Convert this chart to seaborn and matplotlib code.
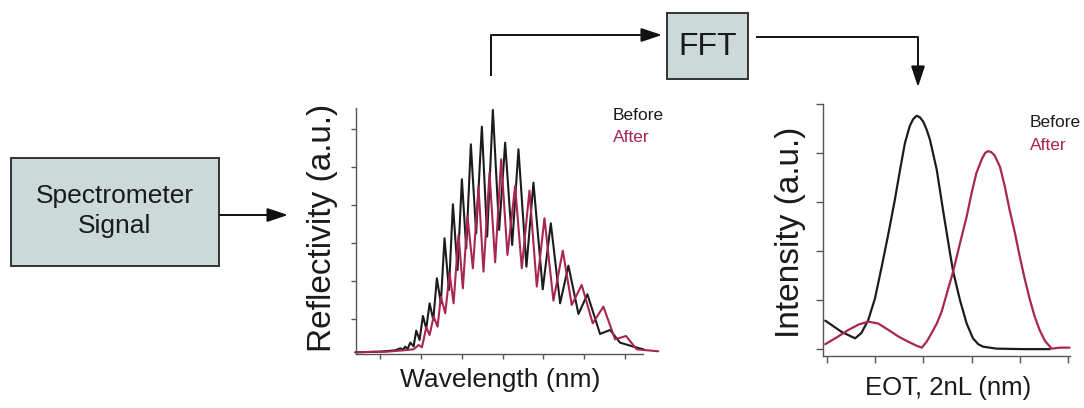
import matplotlib
matplotlib.use("Agg")
import matplotlib.pyplot as plt
import seaborn as sns
from matplotlib.patches import Rectangle

# ---------------- data ----------------
# Reflectivity spectrum, "Before" (black)
wl_before = [469.4, 500.0, 518.4, 524.5, 527.8, 530.6, 533.5, 536.8, 540.9, 544.1,
             548.2, 552.3, 556.4, 560.5, 565.0, 569.4, 574.3, 578.8, 584.2, 589.1,
             594.8, 600.1, 605.4, 611.1, 617.6, 624.6, 631.1, 638.1, 645.8, 653.2,
             661.8, 669.5, 679.3, 687.9, 699.3, 709.2, 720.6, 730.8, 743.1, 754.1,
             769.6, 781.9, 794.1, 810.5, 822.7]
refl_before = [0.132, 0.149, 0.184, 0.237, 0.202, 0.281, 0.219, 0.386, 0.289, 0.702,
               0.456, 1.088, 0.754, 1.421, 0.982, 2.079, 1.421, 3.132, 1.772, 4.026,
               2.298, 4.684, 2.868, 5.605, 3.263, 6.070, 3.175, 6.509, 3.351, 5.649,
               2.956, 5.474, 2.386, 4.596, 1.789, 3.526, 1.421, 2.412, 1.140, 1.658,
               0.614, 0.719, 0.386, 0.281, 0.211]
# Reflectivity spectrum, "After" (red)
wl_after = [469.4, 508.2, 528.6, 540.9, 547.0, 551.1, 556.4, 560.5, 565.4, 570.3,
            574.3, 579.7, 585.0, 589.9, 596.0, 601.3, 607.0, 613.6, 620.5, 626.6,
            634.0, 640.9, 648.3, 656.0, 665.4, 673.6, 683.0, 692.0, 701.4, 712.4,
            723.9, 734.9, 747.1, 760.6, 773.7, 788.0, 801.5, 814.5, 841.1]
refl_after = [0.132, 0.149, 0.184, 0.211, 0.325, 0.263, 0.789, 0.588, 1.070, 0.807,
              1.596, 1.158, 2.211, 1.421, 3.219, 1.816, 3.702, 2.342, 4.474, 2.254,
              4.860, 2.500, 5.211, 2.693, 4.509, 2.342, 4.386, 1.860, 3.658, 1.491,
              2.807, 1.377, 1.904, 0.895, 1.333, 0.474, 0.561, 0.211, 0.158]

# FFT spectrum
eot_before = [-0.03, 0.31, 0.59, 0.72, 0.86, 1.00, 1.14, 1.28, 1.41, 1.52,
              1.62, 1.72, 1.79, 1.86, 1.93, 2.00, 2.07, 2.14, 2.28, 2.41,
              2.55, 2.62, 2.76, 2.90, 3.03, 3.14, 3.24, 3.52, 4.07, 4.62]
int_before = [0.58, 0.35, 0.22, 0.33, 0.59, 1.03, 1.68, 2.36, 3.03, 3.65,
              4.19, 4.54, 4.68, 4.75, 4.72, 4.63, 4.47, 4.26, 3.65, 2.83,
              1.98, 1.58, 1.00, 0.52, 0.22, 0.10, 0.05, 0.01, 0.00, 0.00]
eot_after = [-0.03, 0.21, 0.45, 0.66, 0.86, 1.07, 1.28, 1.48, 1.69, 1.86,
             1.97, 2.07, 2.17, 2.28, 2.38, 2.48, 2.62, 2.76, 2.90, 3.00,
             3.10, 3.21, 3.28, 3.34, 3.41, 3.48, 3.59, 3.69, 3.79, 3.90,
             4.00, 4.10, 4.21, 4.31, 4.41, 4.52, 4.66, 4.83, 5.03]
int_after = [0.10, 0.24, 0.39, 0.50, 0.56, 0.52, 0.39, 0.26, 0.15, 0.07,
             0.03, 0.15, 0.32, 0.52, 0.76, 1.10, 1.58, 2.15, 2.70, 3.17,
             3.58, 3.86, 3.99, 4.03, 4.01, 3.94, 3.71, 3.31, 2.83, 2.36,
             1.88, 1.44, 1.00, 0.66, 0.39, 0.17, 0.01, 0.03, 0.03]

wl_ticks = [500, 550, 600, 650, 700, 750, 800]
refl_ticks = [1, 2, 3, 4, 5, 6]
eot_ticks = [0, 1, 2, 3, 4, 5]
int_ticks = [0, 1, 2, 3, 4, 5]

series_labels = ["Before", "After"]
box_labels = ["Spectrometer\nSignal", "FFT"]
axis_labels = {"mid_x": "Wavelength (nm)", "mid_y": "Reflectivity (a.u.)",
               "fft_x": "EOT, 2nL (nm)", "fft_y": "Intensity (a.u.)"}

# ---------------- style ----------------
sns.set_theme(style="white")
plt.rcParams["font.family"] = ["Liberation Sans", "DejaVu Sans"]

BLACK = "#1c1c1c"
RED = "#a8264f"
AXC = "#555555"
BOXFACE = "#cbdad9"

W, H = 1084, 408
fig = plt.figure(figsize=(W / 100, H / 100), dpi=100)
fig.patch.set_facecolor("white")


def px_axes(left, top, right, bottom, **kw):
    return fig.add_axes([left / W, 1 - bottom / H, (right - left) / W, (bottom - top) / H], **kw)


# overlay for boxes / arrows in pixel coordinates
ov = fig.add_axes([0, 0, 1, 1])
ov.set_xlim(0, W)
ov.set_ylim(H, 0)
ov.axis("off")
ov.patch.set_alpha(0)

# boxes
ov.add_patch(Rectangle((11, 158), 208, 108, facecolor=BOXFACE, edgecolor="#333333", lw=1.4))
ov.text(115, 211, box_labels[0], ha="center", va="center", fontsize=19,
        color="#1a1a1a", linespacing=1.35)
ov.add_patch(Rectangle((667, 13), 81, 66, facecolor=BOXFACE, edgecolor="#333333", lw=1.4))
ov.text(707.5, 47, box_labels[1], ha="center", va="center", fontsize=23, color="#1a1a1a",
        family=["Liberation Sans Narrow", "Liberation Sans", "DejaVu Sans"])

arrow_kw = dict(arrowstyle="-|>,head_length=0.9,head_width=0.3", lw=1.4, color="#111111",
                mutation_scale=14, shrinkA=0, shrinkB=0)
# spectrometer -> spectrum
ov.annotate("", xy=(288, 215), xytext=(220, 215), arrowprops=arrow_kw)
# spectrum -> FFT
ov.plot([491, 491, 600], [76, 35, 35], color="#111111", lw=1.4, solid_capstyle="butt")
ov.annotate("", xy=(662, 35), xytext=(598, 35), arrowprops=arrow_kw)
# FFT -> intensity
ov.plot([756, 918, 918], [37, 37, 60], color="#111111", lw=1.4, solid_capstyle="butt")
ov.annotate("", xy=(918, 87), xytext=(918, 58), arrowprops=arrow_kw)


def style_axes(ax, ticklen):
    for s in ["top", "right"]:
        ax.spines[s].set_visible(False)
    for s in ["left", "bottom"]:
        ax.spines[s].set_color(AXC)
        ax.spines[s].set_linewidth(1.0)
    ax.tick_params(axis="both", which="both", direction="out", length=ticklen, width=1.0,
                   color=AXC, labelleft=False, labelbottom=False, left=True, bottom=True)
    ax.patch.set_alpha(0)


# ---------------- middle: reflectivity ----------------
ax1 = px_axes(356, 108, 643, 354)
sns.lineplot(x=wl_before, y=refl_before, ax=ax1, color=BLACK, lw=1.5, sort=False,
             estimator=None)
sns.lineplot(x=wl_after, y=refl_after, ax=ax1, color=RED, lw=1.5, sort=False,
             estimator=None)
for ln in ax1.lines:
    ln.set_clip_on(False)
    ln.set_solid_joinstyle("round")
ax1.set_xlim(470.2, 822.3)
ax1.set_ylim(0.087, 6.56)
ax1.set_xticks(wl_ticks)
ax1.set_yticks(refl_ticks)
style_axes(ax1, 3.5)
ax1.set_xlabel(axis_labels["mid_x"], fontsize=19, color="#1a1a1a")
ax1.xaxis.set_label_coords(0.502, -0.057)
ax1.set_ylabel(axis_labels["mid_y"], fontsize=24, color="#1a1a1a")
ax1.yaxis.set_label_coords(-0.062, 0.512)
ax1.text(0.8956, 0.951, series_labels[0], transform=ax1.transAxes, fontsize=12.5,
         color=BLACK, va="baseline", ha="left")
ax1.text(0.8956, 0.862, series_labels[1], transform=ax1.transAxes, fontsize=12.5,
         color=RED, va="baseline", ha="left")

# ---------------- right: FFT intensity ----------------
ax2 = px_axes(823.3, 103.5, 1070, 356)
sns.lineplot(x=eot_before, y=int_before, ax=ax2, color=BLACK, lw=1.6, sort=False,
             estimator=None)
sns.lineplot(x=eot_after, y=int_after, ax=ax2, color=RED, lw=1.6, sort=False,
             estimator=None)
for ln in ax2.lines:
    ln.set_clip_on(False)
    ln.set_solid_joinstyle("round")
ax2.set_xlim(-0.07, 5.04)
ax2.set_ylim(-0.14, 5.0)
ax2.set_xticks(eot_ticks)
ax2.set_yticks(int_ticks)
style_axes(ax2, 5)
ax2.set_xlabel(axis_labels["fft_x"], fontsize=18.5, color="#1a1a1a")
ax2.xaxis.set_label_coords(0.505, -0.079)
ax2.set_ylabel(axis_labels["fft_y"], fontsize=24, color="#1a1a1a")
ax2.yaxis.set_label_coords(-0.072, 0.491)
ax2.text(0.838, 0.907, series_labels[0], transform=ax2.transAxes, fontsize=12.5,
         color=BLACK, va="baseline", ha="left")
ax2.text(0.838, 0.816, series_labels[1], transform=ax2.transAxes, fontsize=12.5,
         color=RED, va="baseline", ha="left")

fig.savefig("out.png", dpi=100, facecolor="white")
